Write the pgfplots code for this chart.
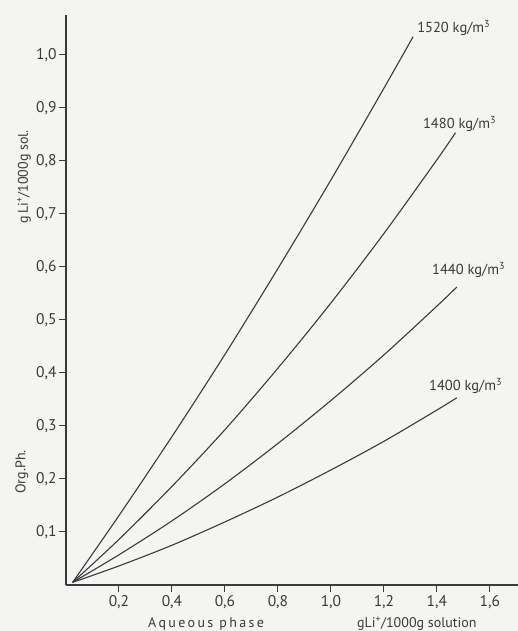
\documentclass[border=0pt]{standalone}
\usepackage{pgfplots}
\pgfplotsset{compat=1.18}
\usepackage{fontspec}
\setmainfont{PT Sans}
\definecolor{ink}{HTML}{3A3A3A}
\definecolor{paper}{HTML}{F4F4F2}
\begin{document}
\begin{tikzpicture}[x=1pt,y=1pt]
\path[use as bounding box, fill=paper] (-66,-46) rectangle (452,585);
\begin{axis}[
  at={(0,0)}, anchor=south west,
  scale only axis, width=452pt, height=570pt,
  xmin=0, xmax=1.706, ymin=0, ymax=1.075,
  axis lines*=left,
  axis line style={ink, line width=1.2pt},
  tick style={ink, line width=1pt},
  tick align=outside, major tick length=7pt,
  xtick={0.2,0.4,0.6,0.8,1.0,1.2,1.4,1.6},
  ytick={0.1,0.2,0.3,0.4,0.5,0.6,0.7,0.8,0.9,1.0},
  /pgf/number format/assume math mode=true,
  /pgf/number format/.cd, use comma, fixed, fixed zerofill, precision=1, /pgfplots/.cd,
  ticklabel style={font=\fontsize{15.5}{15.5}\selectfont, text=ink},
  yticklabel style={xshift=1pt},
  clip=false,
]
\addplot[ink, line width=1.1pt, smooth] coordinates {(0.025,0.005) (0.2,0.131) (0.4,0.280) (0.6,0.435) (0.8,0.597) (1.0,0.764) (1.2,0.937) (1.31,1.034)};
\addplot[ink, line width=1.1pt, smooth] coordinates {(0.025,0.005) (0.2,0.086) (0.4,0.186) (0.6,0.293) (0.8,0.409) (1.0,0.532) (1.2,0.663) (1.4,0.802) (1.47,0.853)};
\addplot[ink, line width=1.1pt, smooth] coordinates {(0.025,0.005) (0.2,0.057) (0.4,0.121) (0.6,0.191) (0.8,0.267) (1.0,0.348) (1.2,0.434) (1.4,0.526) (1.475,0.562)};
\addplot[ink, line width=1.1pt, smooth] coordinates {(0.025,0.005) (0.2,0.036) (0.4,0.075) (0.6,0.119) (0.8,0.166) (1.0,0.217) (1.2,0.271) (1.4,0.330) (1.475,0.353)};
\node[anchor=west, inner sep=0pt, text=ink, font=\fontsize{14.5}{14.5}\selectfont] at (axis cs:1.325,1.051) {1520 kg/m\textsuperscript{3}};
\node[anchor=west, inner sep=0pt, text=ink, font=\fontsize{14.5}{14.5}\selectfont] at (axis cs:1.347,0.870) {1480 kg/m\textsuperscript{3}};
\node[anchor=west, inner sep=0pt, text=ink, font=\fontsize{14.5}{14.5}\selectfont] at (axis cs:1.381,0.594) {1440 kg/m\textsuperscript{3}};
\node[anchor=west, inner sep=0pt, text=ink, font=\fontsize{14.5}{14.5}\selectfont] at (axis cs:1.370,0.375) {1400 kg/m\textsuperscript{3}};
\end{axis}
\node[rotate=90, text=ink, font=\fontsize{14}{14}\selectfont] at (-42,408) {g\,Li\textsuperscript{+}/1000g sol.};
\node[rotate=90, text=ink, font=\fontsize{14}{14}\selectfont] at (-44,113) {Org.Ph.};
\node[text=ink, font=\fontsize{14}{14}\selectfont] at (140,-39) {A\,q\,u\,e\,o\,u\,s\, p\,h\,a\,s\,e};
\node[anchor=west, text=ink, font=\fontsize{14}{14}\selectfont, inner sep=0pt] at (291,-39) {gLi\textsuperscript{+}/1000g solution};
\end{tikzpicture}
\end{document}
